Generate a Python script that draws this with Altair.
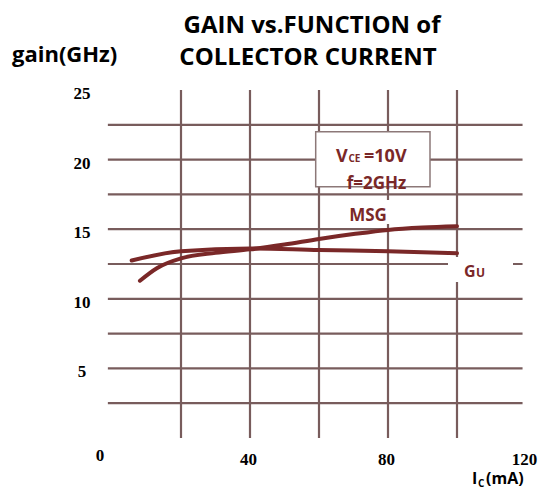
import altair as alt
import pandas as pd

# ---- data ----
msg_x = [8.1, 13, 20, 30, 40, 50, 60, 70, 80, 90, 100]
msg_y = [11.3, 12.2, 12.9, 13.3, 13.55, 13.9, 14.3, 14.65, 14.95, 15.12, 15.22]
gu_x = [5.7, 20, 40, 60, 80, 100]
gu_y = [12.75, 13.42, 13.62, 13.5, 13.42, 13.28]

x_ticks = [0, 40, 80, 120]
y_ticks = [5, 10, 15, 20, 25]
x_grid = [20, 40, 60, 80, 100]
y_grid = [2.5, 5, 7.5, 10, 12.5, 15, 17.5, 20, 22.5]

CURVE = "#7a2828"
GRID = "#785c5c"
TXT = "#7a2828"
SANS = "Open Sans"
SERIF = "Liberation Serif"

W, H = 414, 348

curves = pd.DataFrame(
    {"x": msg_x + gu_x,
     "y": msg_y + gu_y,
     "s": ["MSG"] * len(msg_x) + ["GU"] * len(gu_x)}
)

xs = alt.Scale(domain=[0, 120])
ys = alt.Scale(domain=[0, 25])

vgrid = alt.Chart(pd.DataFrame({"x": x_grid})).mark_rule(
    color=GRID, strokeWidth=2.2
).encode(
    x=alt.X("x:Q", scale=xs, axis=None),
    y=alt.value(0), y2=alt.value(H),
)

hgrid = alt.Chart(pd.DataFrame({"y": y_grid, "x0": [-1.2] * len(y_grid), "x1": [119] * len(y_grid)})).mark_rule(
    color=GRID, strokeWidth=2.2
).encode(
    y=alt.Y("y:Q", scale=ys, axis=None),
    x=alt.X("x0:Q", scale=xs, axis=None),
    x2="x1:Q",
)

one = alt.Data(values=[{"a": 1}])

def rect(x1, x2, y1, y2, stroke=None, sw=0):
    kw = dict(fill="white")
    if stroke:
        kw.update(stroke=stroke, strokeWidth=sw)
    return alt.Chart(one).mark_rect(**kw).encode(
        x=alt.value(x1), x2=alt.value(x2), y=alt.value(y1), y2=alt.value(y2)
    )

def txt(t, x, y, size, align="left", color=TXT, font=SANS, weight="bold"):
    return alt.Chart(one).mark_text(
        text=t, align=align, baseline="alphabetic", fontSize=size,
        font=font, fontWeight=weight, color=color
    ).encode(x=alt.value(x), y=alt.value(y))

box = rect(203.7, 318, 41.7, 96.7, stroke="#8c7878", sw=1.5)
msg_bg = rect(225, 291, 110, 134)
gu_bg = rect(336, 401, 167, 192)

lines = alt.Chart(curves).mark_line(
    color=CURVE, strokeWidth=4, interpolate="monotone", strokeCap="round"
).encode(
    x=alt.X("x:Q", scale=xs, axis=None),
    y=alt.Y("y:Q", scale=ys, axis=None),
    detail="s:N",
)

# tick labels drawn through the scales
xt = pd.DataFrame({"v": x_ticks})
xlab_main = alt.Chart(xt).transform_filter("datum.v > 0").mark_text(
    font=SERIF, fontSize=17, fontWeight="bold", color="black", baseline="middle", dx=-1.5
).encode(x=alt.X("v:Q", scale=xs, axis=None), y=alt.value(H + 22), text="v:Q")
xlab_zero = alt.Chart(xt).transform_filter("datum.v == 0").mark_text(
    font=SERIF, fontSize=17, fontWeight="bold", color="black", baseline="middle", dx=-12
).encode(x=alt.X("v:Q", scale=xs, axis=None), y=alt.value(H + 18), text="v:Q")
ylab = alt.Chart(pd.DataFrame({"v": y_ticks})).mark_text(
    font=SERIF, fontSize=17, fontWeight="bold", color="black", baseline="middle", dy=4
).encode(y=alt.Y("v:Q", scale=ys, axis=None), x=alt.value(-30), text="v:Q")

texts = [
    txt("V", 224, 72, 18),
    txt("CE", 236.5, 72, 10),
    txt("=10V", 252, 72, 18),
    txt("f=2GHz", 264.5, 99, 17, align="center"),
    txt("MSG", 256, 131, 17, align="center"),
    txt("G", 352, 187, 16),
    txt("U", 364, 187, 12),
    txt("GAIN vs.FUNCTION of", 200, -57, 24, align="center", color="black"),
    txt("COLLECTOR CURRENT", 196, -25, 24, align="center", color="black"),
    txt("gain(GHz)", -100, -28, 22, color="black"),
    txt("I", 360, 394, 16, color="black"),
    txt("C", 366, 397, 10, color="black"),
    txt("(mA)", 374, 394, 16, color="black"),
]

chart = alt.layer(
    vgrid, hgrid, box, msg_bg, gu_bg, lines, xlab_main, xlab_zero, ylab, *texts
).properties(
    width=W, height=H,
    padding={"left": 104, "top": 82, "right": 13, "bottom": 54},
    autosize=alt.AutoSizeParams(type="none"),
).configure_view(stroke=None)

chart.save("out.html", embed_options={"renderer": "svg", "actions": False})
